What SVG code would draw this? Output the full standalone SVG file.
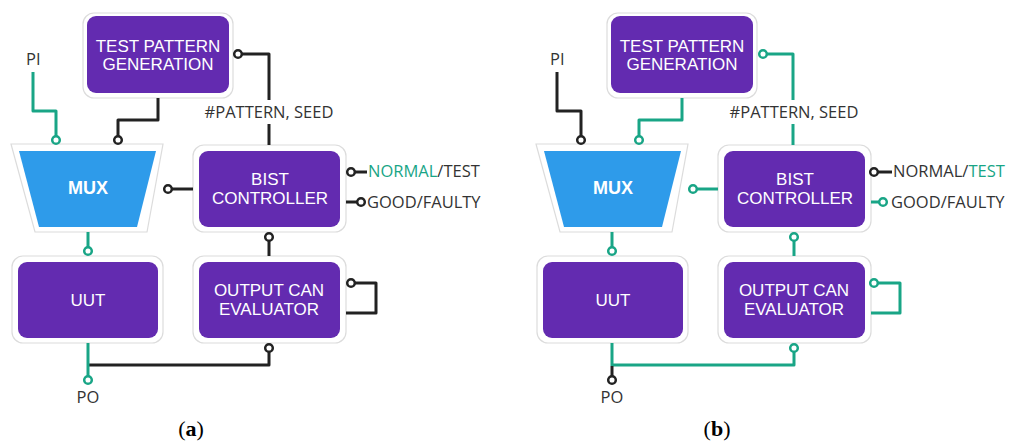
<svg xmlns="http://www.w3.org/2000/svg" width="1019" height="444" viewBox="0 0 1019 444">
<style>
.outer{fill:#fff;stroke:#dcdcdc;stroke-width:1.2}
.inner{fill:#632bb0}
.mux{fill:#2e9bea}
.bt{font-family:"Liberation Sans",Arial,sans-serif;font-size:17px;fill:#fff;text-anchor:middle}
.mt{font-family:"Liberation Sans",Arial,sans-serif;font-size:18px;font-weight:bold;fill:#fff;text-anchor:middle}
.lb{font-family:"Open Sans",sans-serif;font-size:16.5px;fill:#333}
.g{stroke:#19a586;fill:none;stroke-width:3;stroke-linejoin:round}
.k{stroke:#222;fill:none;stroke-width:3;stroke-linejoin:round}
.cg{fill:#fff;stroke:#19a586;stroke-width:2.5}
.ck{fill:#fff;stroke:#222;stroke-width:2.5}
.gt{fill:#19a586}
.cap{font-family:"Liberation Serif",serif;font-size:22px;fill:#000;text-anchor:middle}
</style>
<!-- Panel (a) -->
<g id="a-tpg"><rect class="outer" x="83" y="13" width="150" height="85" rx="11"/><rect class="inner" x="87" y="16" width="142" height="77" rx="9"/><text class="bt" x="158" y="52">TEST PATTERN</text><text class="bt" x="158" y="70">GENERATION</text></g>
<g id="a-mux"><polygon class="outer" points="11,144 163,144 147,232 35,232"/><polygon class="mux" points="19,151 156,151 137,227 39,227"/><text class="mt" x="88" y="194">MUX</text></g>
<g id="a-bist"><rect class="outer" x="193" y="145" width="153" height="87" rx="11"/><rect class="inner" x="199" y="151" width="141" height="76" rx="9"/><text class="bt" x="270" y="185">BIST</text><text class="bt" x="270" y="204">CONTROLLER</text></g>
<g id="a-uut"><rect class="outer" x="12" y="256" width="151" height="87" rx="11"/><rect class="inner" x="18" y="262" width="140" height="76" rx="9"/><text class="bt" x="88" y="306">UUT</text></g>
<g id="a-oce"><rect class="outer" x="193" y="256" width="153" height="87" rx="11"/><rect class="inner" x="199" y="262" width="141" height="76" rx="9"/><text class="bt" x="269" y="296">OUTPUT CAN</text><text class="bt" x="269" y="315">EVALUATOR</text></g>
<g id="a-labels">
<text class="lb" x="26" y="65">PI</text>
<text class="lb" x="88" y="403" text-anchor="middle">PO</text>
<text class="lb" x="269" y="118" text-anchor="middle">#PATTERN, SEED</text>
<text class="lb" x="368" y="177"><tspan class="gt">NORMAL</tspan>/TEST</text>
<text class="lb" x="367" y="208">GOOD/FAULTY</text>
<text class="cap" x="191" y="436">(<tspan font-weight="bold">a</tspan>)</text>
</g>
<g id="a-connectors">
<path class="g" d="M33,72 V111 H56 V136"/><circle class="cg" cx="56" cy="140" r="3.8"/>
<path class="k" d="M158,98 V120 H118 V136"/><circle class="ck" cx="118" cy="140" r="3.8"/>
<path class="k" d="M172,189 H193"/><circle class="ck" cx="168" cy="189" r="3.8"/>
<path class="k" d="M242,54 H269 V100 M269,124 V145"/><circle class="ck" cx="238" cy="54" r="3.8"/>
<path class="k" d="M355,172 H367"/><circle class="ck" cx="351" cy="172" r="3.8"/>
<path class="k" d="M346,202 H357"/><circle class="ck" cx="361" cy="202" r="3.8"/>
<path class="k" d="M269,241 V256"/><circle class="ck" cx="269" cy="237" r="3.8"/>
<path class="k" d="M355,283 H376 V313 H346"/><circle class="ck" cx="351" cy="283" r="3.8"/>
<path class="k" d="M269,352 V365 H88"/><circle class="ck" cx="269" cy="348" r="3.8"/>
<path class="g" d="M88,232 V247"/><circle class="cg" cx="88" cy="251" r="3.8"/>
<path class="g" d="M88,343 V376"/><circle class="cg" cx="88" cy="380" r="3.8"/>
</g>
<!-- Panel (b) -->
<g id="b-tpg"><rect class="outer" x="607" y="13" width="150" height="85" rx="11"/><rect class="inner" x="611" y="16" width="142" height="77" rx="9"/><text class="bt" x="682" y="52">TEST PATTERN</text><text class="bt" x="682" y="70">GENERATION</text></g>
<g id="b-mux"><polygon class="outer" points="536,144 688,144 672,232 560,232"/><polygon class="mux" points="544,151 681,151 662,227 564,227"/><text class="mt" x="613" y="194">MUX</text></g>
<g id="b-bist"><rect class="outer" x="718" y="145" width="153" height="87" rx="11"/><rect class="inner" x="724" y="151" width="141" height="76" rx="9"/><text class="bt" x="795" y="185">BIST</text><text class="bt" x="795" y="204">CONTROLLER</text></g>
<g id="b-uut"><rect class="outer" x="537" y="256" width="151" height="87" rx="11"/><rect class="inner" x="543" y="262" width="140" height="76" rx="9"/><text class="bt" x="613" y="306">UUT</text></g>
<g id="b-oce"><rect class="outer" x="718" y="256" width="153" height="87" rx="11"/><rect class="inner" x="724" y="262" width="141" height="76" rx="9"/><text class="bt" x="794" y="296">OUTPUT CAN</text><text class="bt" x="794" y="315">EVALUATOR</text></g>
<g id="b-labels">
<text class="lb" x="550" y="65">PI</text>
<text class="lb" x="612" y="403" text-anchor="middle">PO</text>
<text class="lb" x="794" y="118" text-anchor="middle">#PATTERN, SEED</text>
<text class="lb" x="893" y="177">NORMAL/<tspan class="gt">TEST</tspan></text>
<text class="lb" x="891" y="208">GOOD/FAULTY</text>
<text class="cap" x="717" y="436">(<tspan font-weight="bold">b</tspan>)</text>
</g>
<g id="b-connectors">
<path class="k" d="M557,72 V111 H581 V136"/><circle class="ck" cx="581" cy="140" r="3.8"/>
<path class="g" d="M682,98 V120 H639 V136"/><circle class="cg" cx="639" cy="140" r="3.8"/>
<path class="g" d="M697,189 H718"/><circle class="cg" cx="693" cy="189" r="3.8"/>
<path class="g" d="M767,54 H793 V100 M793,124 V145"/><circle class="cg" cx="763" cy="54" r="3.8"/>
<path class="k" d="M878,172 H892"/><circle class="ck" cx="874" cy="172" r="3.8"/>
<path class="g" d="M871,202 H879"/><circle class="cg" cx="883" cy="202" r="3.8"/>
<path class="g" d="M794,241 V256"/><circle class="cg" cx="794" cy="237" r="3.8"/>
<path class="g" d="M878,283 H900 V313 H871"/><circle class="cg" cx="874" cy="283" r="3.8"/>
<path class="g" d="M794,352 V365 H612"/><circle class="cg" cx="794" cy="348" r="3.8"/>
<path class="g" d="M612,232 V247"/><circle class="cg" cx="612" cy="251" r="3.8"/>
<path class="g" d="M612,343 V366"/>
<path class="k" d="M612,366 V376"/><circle class="ck" cx="612" cy="380" r="3.8"/>
</g>
</svg>
